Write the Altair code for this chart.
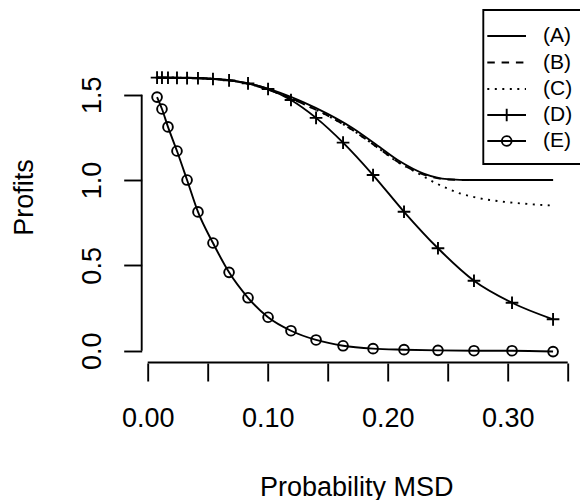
import altair as alt
import pandas as pd

# ---------------- data ----------------
x_mark = [0.0078, 0.0119, 0.0169, 0.0244, 0.0328, 0.0419, 0.0544, 0.0678, 0.0836, 0.1003,
          0.1194, 0.1403, 0.1628, 0.1878, 0.2136, 0.2419, 0.2719, 0.3036, 0.3378]
d_vals = [1.600, 1.600, 1.599, 1.598, 1.597, 1.596, 1.592, 1.584, 1.566, 1.533,
          1.469, 1.364, 1.219, 1.029, 0.814, 0.600, 0.410, 0.281, 0.184]
e_vals = [1.486, 1.416, 1.311, 1.170, 1.000, 0.813, 0.631, 0.459, 0.310, 0.196,
          0.117, 0.063, 0.029, 0.012, 0.006, 0.002, 0.000, 0.000, -0.005]

x_ab = [0.0078, 0.03, 0.05, 0.07, 0.09, 0.11, 0.13, 0.15, 0.17, 0.19, 0.21, 0.23, 0.25, 0.27, 0.30, 0.3378]
a_vals = [1.600, 1.599, 1.595, 1.583, 1.555, 1.512, 1.455, 1.388, 1.308, 1.210, 1.110, 1.038, 1.005, 1.000, 1.000, 1.000]
b_vals = [1.600, 1.599, 1.595, 1.582, 1.552, 1.505, 1.445, 1.377, 1.296, 1.198, 1.100, 1.032, 1.003, 1.000, 1.000, 1.000]

x_c = [0.0078, 0.03, 0.05, 0.07, 0.09, 0.11, 0.13, 0.15, 0.17, 0.19, 0.21, 0.22, 0.23, 0.24, 0.25, 0.26,
       0.27, 0.285, 0.30, 0.32, 0.3378]
c_vals = [1.600, 1.599, 1.595, 1.582, 1.552, 1.505, 1.445, 1.377, 1.296, 1.198, 1.098, 1.060, 1.020, 0.982,
          0.950, 0.922, 0.903, 0.883, 0.870, 0.858, 0.850]

labels = ["(A)", "(B)", "(C)", "(D)", "(E)"]
x_ticks = [0.0, 0.05, 0.10, 0.15, 0.20, 0.25, 0.30, 0.35]
y_ticks = [0.0, 0.5, 1.0, 1.5]

# ---------------- layout ----------------
W, H = 429, 332
PAD_L, PAD_T = 141.7, 31
FONT = "Liberation Sans"
LW = 1.9

xs = alt.Scale(domain=[-0.005, 0.3525], nice=False, zero=False)
ys = alt.Scale(domain=[-0.072, 1.873], nice=False, zero=False)

x_axis = alt.Axis(values=x_ticks, domain=False, grid=False, tickSize=18, tickWidth=LW,
                  tickColor="black",
                  labelExpr="round(datum.value*20) % 2 == 0 ? format(datum.value, '.2f') : ''",
                  labelFont=FONT, labelFontSize=27, labelColor="black", labelBaseline="alphabetic",
                  labelPadding=45, labelOverlap=False, labelFlush=False,
                  title="Probability MSD", titleFont=FONT, titleFontSize=27, titleFontWeight="normal",
                  titleColor="black", titleX=W / 2, titleY=132, titleBaseline="alphabetic",
                  titleAlign="center")
y_axis = alt.Axis(values=y_ticks, domain=False, grid=False, tickSize=18, tickWidth=LW,
                  tickColor="black", labelExpr="format(datum.value, '.1f')",
                  labelFont=FONT, labelFontSize=27, labelColor="black", labelAngle=270,
                  labelAlign="center", labelBaseline="alphabetic", labelPadding=23,
                  labelOverlap=False, labelFlush=False,
                  title="Profits", titleFont=FONT, titleFontSize=27, titleFontWeight="normal",
                  titleColor="black", titleAngle=270, titleX=-109.7, titleY=H / 2,
                  titleBaseline="alphabetic", titleAlign="center")


def X(field="x"):
    return alt.X(f"{field}:Q", scale=xs, axis=x_axis)


def Y(field="y"):
    return alt.Y(f"{field}:Q", scale=ys, axis=y_axis)


def line(xv, yv, dash=None):
    kw = dict(color="black", strokeWidth=LW, interpolate="monotone", strokeCap="butt")
    if dash:
        kw["strokeDash"] = dash
    return alt.Chart(pd.DataFrame({"x": xv, "y": yv})).mark_line(**kw).encode(x=X(), y=Y())


PLUS = "M-1,0L1,0M0,-1L0,1"

layers = [
    line(x_ab, a_vals),
    line(x_ab, b_vals, [7.5, 6.8]),
    line(x_c, c_vals, [2, 5.5]),
    line(x_mark, d_vals),
    line(x_mark, e_vals),
    alt.Chart(pd.DataFrame({"x": x_mark, "y": d_vals})).mark_point(
        shape=PLUS, filled=False, size=160, color="black", strokeWidth=LW, opacity=1
    ).encode(x=X(), y=Y()),
    alt.Chart(pd.DataFrame({"x": x_mark, "y": e_vals})).mark_point(
        shape="circle", filled=False, size=95, color="black", strokeWidth=LW, opacity=1
    ).encode(x=X(), y=Y()),
    # axis lines (R style: span first to last tick)
    alt.Chart(pd.DataFrame({"x": [x_ticks[0]], "x2": [x_ticks[-1]]})).mark_rule(
        color="black", strokeWidth=LW
    ).encode(x=X(), x2="x2:Q", y=alt.value(H - 0.5)),
    alt.Chart(pd.DataFrame({"y": [y_ticks[0]], "y2": [y_ticks[-1]]})).mark_rule(
        color="black", strokeWidth=LW
    ).encode(y=Y(), y2="y2:Q", x=alt.value(0)),
]

# ---------------- legend (drawn manually, R style) ----------------
one = alt.Data(values=[{}])
LX0 = 483.3 - PAD_L
layers.append(
    alt.Chart(one).mark_rect(fill="white", stroke="black", strokeWidth=LW).encode(
        x=alt.value(LX0), x2=alt.value(620 - PAD_L), y=alt.value(10 - PAD_T), y2=alt.value(164 - PAD_T)
    )
)
row_y = [36, 62.5, 89, 115, 141]
dashes = [None, [7.5, 6.8], [2, 5.5], None, None]
for lab, ry, dsh in zip(labels, row_y, dashes):
    yy = ry - PAD_T
    kw = dict(color="black", strokeWidth=LW, strokeCap="butt")
    if dsh:
        kw["strokeDash"] = dsh
    layers.append(alt.Chart(one).mark_rule(**kw).encode(
        x=alt.value(487.3 - PAD_L), x2=alt.value(526 - PAD_L), y=alt.value(yy)))
    layers.append(alt.Chart(one).mark_text(
        text=lab, font=FONT, fontSize=21, align="left", baseline="middle", color="black"
    ).encode(x=alt.value(543 - PAD_L), y=alt.value(yy)))
    if lab == "(D)":
        layers.append(alt.Chart(one).mark_point(
            shape=PLUS, filled=False, size=160, color="black", strokeWidth=LW, opacity=1
        ).encode(x=alt.value(506.7 - PAD_L), y=alt.value(yy)))
    if lab == "(E)":
        layers.append(alt.Chart(one).mark_point(
            shape="circle", filled=False, size=95, color="black", strokeWidth=LW, opacity=1
        ).encode(x=alt.value(506.7 - PAD_L), y=alt.value(yy)))

chart = alt.layer(*layers).properties(
    width=W, height=H,
    autosize=alt.AutoSizeParams(type="none"),
    padding={"left": PAD_L, "top": PAD_T, "right": 580 - PAD_L - W, "bottom": 500 - PAD_T - H},
    background="white",
).configure_view(stroke=None)

chart.save("out.html", embed_options={"renderer": "svg", "actions": False})
